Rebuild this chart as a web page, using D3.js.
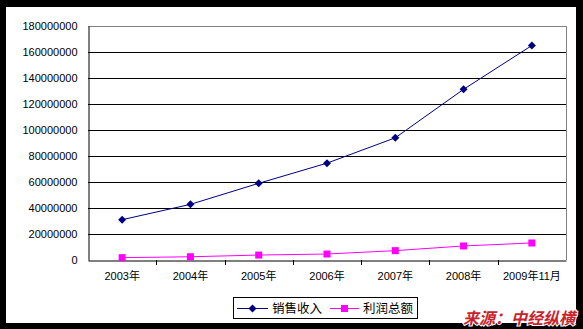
<!DOCTYPE html>
<html>
<head>
<meta charset="utf-8">
<script src="https://cdn.jsdelivr.net/npm/d3@7"></script>
<style>
  body { margin: 0; background: #000; }
  svg { display: block; }
  .tick text { font-family: "Liberation Sans", Arial, "Noto Sans CJK SC", sans-serif; font-size: 11px; fill: #000; }
</style>
</head>
<body>
<div id="chart"></div>
<script>
// categories and values
var years = ["2003年", "2004年", "2005年", "2006年", "2007年", "2008年", "2009年11月"];
var sales = [31000000, 42800000, 59000000, 74500000, 94000000, 131300000, 165000000];
var profit = [1800000, 2500000, 3800000, 4600000, 7200000, 10800000, 13100000];
var yTicks = [0, 20000000, 40000000, 60000000, 80000000, 100000000, 120000000, 140000000, 160000000, 180000000];
var seriesNames = ["销售收入", "利润总额"];

var W = 583, H = 329;
var margin = {top: 26, right: 17, bottom: 69, left: 88};
var width = W - margin.left - margin.right;
var height = H - margin.top - margin.bottom;

var root = d3.select("#chart").append("svg")
    .attr("width", W)
    .attr("height", H);

// black frame with white chart area
root.append("rect").attr("width", W).attr("height", H).attr("fill", "#000");
root.append("rect").attr("x", 6).attr("y", 7).attr("width", 570).attr("height", 316).attr("fill", "#fff");

var svg = root.append("g")
    .attr("transform", "translate(" + margin.left + "," + margin.top + ")");

var x = d3.scaleBand().domain(years).range([0, width]);
var y = d3.scaleLinear().domain([0, 180000000]).range([height, 0]);

// gridlines
svg.selectAll("line.grid")
    .data(yTicks.slice(1, -1))
    .enter().append("line")
    .attr("class", "grid")
    .attr("x1", 0).attr("x2", width)
    .attr("y1", d => Math.round(y(d)) + 0.5)
    .attr("y2", d => Math.round(y(d)) + 0.5)
    .attr("stroke", "#000")
    .attr("stroke-width", 1);

// gray top + right border of plot area
svg.append("path")
    .attr("d", "M0," + (y(180000000) + 0.5) + "H" + (width + 0.5) + "V" + height)
    .attr("fill", "none")
    .attr("stroke", "#808080");

// y axis
var yAxis = svg.append("g")
    .attr("transform", "translate(0.5,0)")
    .call(d3.axisLeft(y).tickValues(yTicks).tickSize(0).tickPadding(11).tickFormat(d3.format("d")));
yAxis.select(".domain").attr("stroke", "#000");

// x axis
var xAxis = svg.append("g")
    .attr("transform", "translate(0," + (height + 0.5) + ")")
    .call(d3.axisBottom(x).tickSize(0).tickPadding(12));
xAxis.select(".domain").attr("stroke", "#000");

// tick marks at category boundaries
svg.selectAll("line.xtick")
    .data(years.slice(1))
    .enter().append("line")
    .attr("class", "xtick")
    .attr("x1", d => Math.round(x(d)) + 0.5)
    .attr("x2", d => Math.round(x(d)) + 0.5)
    .attr("y1", height).attr("y2", height + 5)
    .attr("stroke", "#000");

var line = d3.line()
    .x((d, i) => x(years[i]) + x.bandwidth() / 2)
    .y(d => y(d));

// sales line
svg.append("path")
    .datum(sales)
    .attr("d", line)
    .attr("fill", "none")
    .attr("stroke", "#000080")
    .attr("stroke-width", 1);

svg.selectAll("path.diamond")
    .data(sales)
    .enter().append("path")
    .attr("class", "diamond")
    .attr("transform", (d, i) => "translate(" + (x(years[i]) + x.bandwidth() / 2) + "," + y(d) + ")")
    .attr("d", "M0,-4L4,0L0,4L-4,0Z")
    .attr("fill", "#000080");

// profit line
svg.append("path")
    .datum(profit)
    .attr("d", line)
    .attr("fill", "none")
    .attr("stroke", "#ff00ff")
    .attr("stroke-width", 1);

svg.selectAll("rect.square")
    .data(profit)
    .enter().append("rect")
    .attr("class", "square")
    .attr("x", (d, i) => x(years[i]) + x.bandwidth() / 2 - 3.5)
    .attr("y", d => y(d) - 3.5)
    .attr("width", 7).attr("height", 7)
    .attr("fill", "#ff00ff");

// legend
var legend = root.append("g").attr("transform", "translate(233,297)");
legend.append("rect")
    .attr("x", 0.5).attr("y", 0.5)
    .attr("width", 184).attr("height", 21)
    .attr("fill", "#fff").attr("stroke", "#000");

legend.append("line").attr("x1", 4).attr("x2", 35).attr("y1", 11.5).attr("y2", 11.5).attr("stroke", "#000080");
legend.append("path").attr("transform", "translate(19.5,11.5)").attr("d", "M0,-4L4,0L0,4L-4,0Z").attr("fill", "#000080");
legend.append("text").attr("x", 39).attr("y", 16)
    .style("font-family", "'Noto Sans CJK SC', sans-serif").style("font-size", "12.5px")
    .text(seriesNames[0]);

legend.append("line").attr("x1", 97).attr("x2", 126).attr("y1", 11.5).attr("y2", 11.5).attr("stroke", "#ff00ff");
legend.append("rect").attr("x", 108).attr("y", 8).attr("width", 7).attr("height", 7).attr("fill", "#ff00ff");
legend.append("text").attr("x", 130).attr("y", 16)
    .style("font-family", "'Noto Sans CJK SC', sans-serif").style("font-size", "12.5px")
    .text(seriesNames[1]);

// source note
root.append("text")
    .attr("x", 575).attr("y", 324)
    .attr("text-anchor", "end")
    .style("font-family", "'Noto Sans CJK SC', sans-serif")
    .style("font-size", "16px")
    .style("font-weight", "bold")
    .style("font-style", "italic")
    .style("paint-order", "stroke")
    .attr("stroke", "#fff").attr("stroke-width", 2)
    .attr("fill", "#c8232c")
    .text("来源：中经纵横");
</script>
</body>
</html>
